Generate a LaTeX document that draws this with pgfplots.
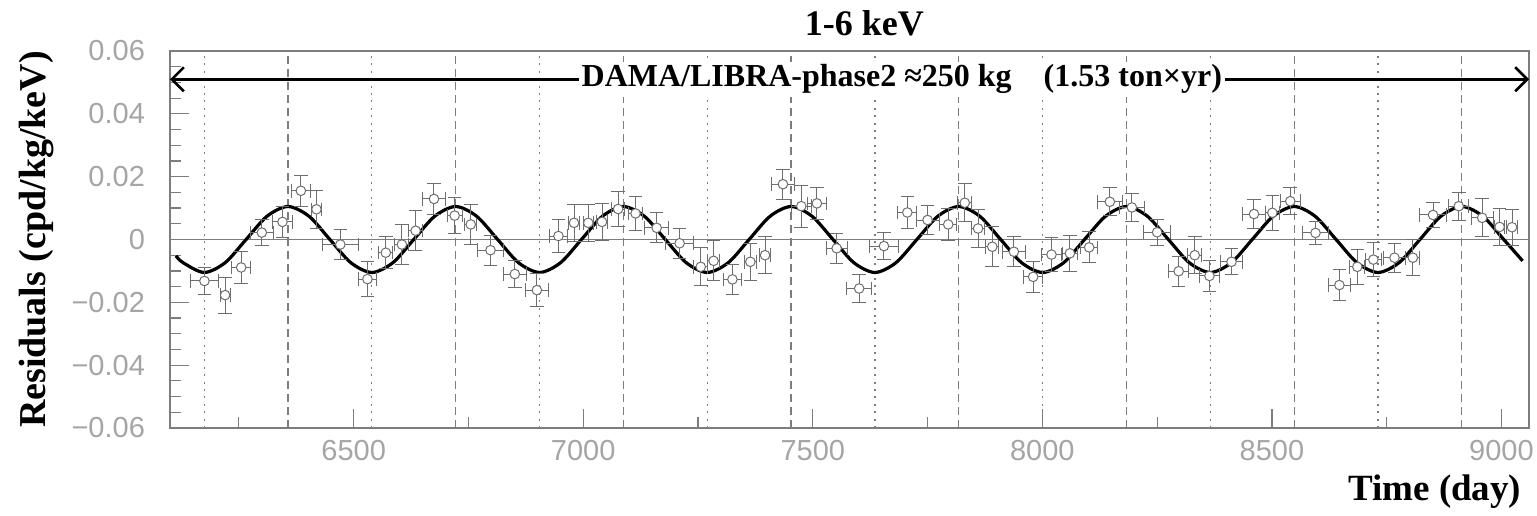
\documentclass[border=0pt]{standalone}
\usepackage{fontspec}
\setmainfont{Liberation Serif}
\newfontfamily\ticksans{Liberation Sans}
\usepackage{pgfplots}
\pgfplotsset{compat=1.18}
\usetikzlibrary{arrows.meta}
\definecolor{axisgray}{RGB}{125,125,125}
\definecolor{tickgray}{RGB}{165,165,165}
\definecolor{errgray}{RGB}{110,110,110}

% residuals: time, value, x half-width, y error
\pgfplotstableread{
x     y        ex   ey
6175  -0.0132  30  0.0042
6220  -0.0177  11  0.0057
6255  -0.0089  20  0.0052
6300   0.0022  25  0.0042
6345   0.0056  21  0.0049
6385   0.0155  21  0.0049
6419   0.0096  11  0.0060
6471  -0.0016  39  0.0049
6530  -0.0126  20  0.0055
6570  -0.0042  15  0.0050
6605  -0.0016  15  0.0064
6635   0.0028  16  0.0063
6675   0.0129  26  0.0049
6720   0.0076  16  0.0057
6755   0.0048  13  0.0064
6798  -0.0034  28  0.0048
6851  -0.0110  25  0.0044
6899  -0.0161  25  0.0053
6946   0.0011  20  0.0052
6980   0.0053  12  0.0058
7011   0.0053  11  0.0058
7041   0.0056  11  0.0058
7076   0.0097  15  0.0055
7114   0.0083  15  0.0053
7160   0.0037  26  0.0048
7210  -0.0012  30  0.0048
7256  -0.0087  15  0.0060
7284  -0.0068  13  0.0064
7325  -0.0127  20  0.0048
7364  -0.0071  13  0.0058
7396  -0.0050  13  0.0058
7435   0.0176  25  0.0048
7475   0.0106  22  0.0067
7509   0.0115  20  0.0052
7552  -0.0028  23  0.0048
7601  -0.0156  27  0.0046
7655  -0.0021  31  0.0044
7706   0.0086  21  0.0050
7750   0.0062  25  0.0046
7795   0.0048  19  0.0052
7831   0.0117  15  0.0061
7860   0.0035  15  0.0061
7891  -0.0023  14  0.0064
7938  -0.0039  25  0.0048
7980  -0.0119  21  0.0050
8020  -0.0048  22  0.0055
8060  -0.0044  17  0.0058
8102  -0.0025  19  0.0049
8147   0.0120  27  0.0045
8195   0.0102  27  0.0045
8250   0.0023  29  0.0041
8297  -0.0101  22  0.0048
8332  -0.0050  15  0.0058
8364  -0.0116  22  0.0048
8412  -0.0071  25  0.0042
8461   0.0081  26  0.0045
8501   0.0085  15  0.0056
8540   0.0122  22  0.0042
8595   0.0021  29  0.0037
8647  -0.0145  24  0.0048
8686  -0.0087  16  0.0055
8721  -0.0064  18  0.0053
8767  -0.0058  25  0.0046
8807  -0.0058  15  0.0057
8851   0.0078  30  0.0040
8907   0.0106  22  0.0044
8958   0.0069  24  0.0060
8996   0.0040  11  0.0058
9023   0.0039  13  0.0058
}\residuals

% fitted modulation (peaks, troughs, crossings, mid points)
\pgfplotstableread{
t       v
6113   -0.0052
6128.7 -0.0074
6174.4 -0.0105
6220.0 -0.0074
6265.7  0
6311.3  0.0074
6357.0  0.0105
6402.7  0.0074
6448.3  0
6494.0 -0.0074
6539.6 -0.0105
6585.3 -0.0074
6630.9  0
6676.6  0.0074
6722.2  0.0105
6767.9  0.0074
6813.6  0
6859.2 -0.0074
6904.9 -0.0105
6950.5 -0.0074
6996.2  0
7041.8  0.0074
7087.5  0.0105
7133.2  0.0074
7178.8  0
7224.5 -0.0074
7270.1 -0.0105
7315.8 -0.0074
7361.4  0
7407.1  0.0074
7452.7  0.0105
7498.4  0.0074
7544.1  0
7589.7 -0.0074
7635.4 -0.0105
7681.0 -0.0074
7726.7  0
7772.3  0.0074
7818.0  0.0105
7863.7  0.0074
7909.3  0
7955.0 -0.0074
8000.6 -0.0105
8046.3 -0.0074
8091.9  0
8137.6  0.0074
8183.2  0.0105
8228.9  0.0074
8274.6  0
8320.2 -0.0074
8365.9 -0.0105
8411.5 -0.0074
8457.2  0
8502.8  0.0074
8548.5  0.0105
8594.1  0.0074
8639.8  0
8685.5 -0.0074
8731.1 -0.0105
8776.8 -0.0074
8822.4  0
8868.1  0.0074
8913.7  0.0105
8959.4  0.0074
9005.0  0
9046   -0.0068
}\fitcurve

\begin{document}
\begin{tikzpicture}
\path[use as bounding box] (-85pt,-43.5pt) rectangle (683.5pt,214pt);
\begin{axis}[
  at={(0,0)}, anchor=south west,
  width=679.5pt, height=188.5pt, scale only axis,
  xmin=6100, xmax=9060, ymin=-0.06, ymax=0.06,
  scaled y ticks=false, scaled x ticks=false,
  axis line style={draw=axisgray, line width=0.6pt},
  tick style={draw=axisgray, line width=0.6pt},
  tick align=inside, tick pos=left,
  major tick length=9.5pt, minor tick length=5.5pt,
  xtick={6500,7000,7500,8000,8500,9000},
  xticklabels={6500,7000,7500,8000,8500,9000},
  minor xtick={6250,6750,7250,7750,8250,8750},
  ytick={-0.06,-0.04,-0.02,0,0.02,0.04,0.06},
  yticklabels={−0.06,−0.04,−0.02,0,0.02,0.04,0.06},
  minor ytick={-0.055,-0.05,-0.045,-0.035,-0.03,-0.025,-0.015,-0.01,-0.005,
               0.005,0.01,0.015,0.025,0.03,0.035,0.045,0.05,0.055},
  ticklabel style={font=\ticksans\fontsize{14.5}{14.5}\selectfont, text=tickgray},
  yticklabel style={xshift=-9pt},
  xticklabel style={yshift=-2.5pt},
  title={1-6 keV},
  title style={font=\bfseries\fontsize{18}{18}\selectfont,
               at={(axis description cs:0.511,1.042)}, anchor=center},
  xlabel={Time (day)},
  xlabel style={font=\bfseries\fontsize{18.5}{18.5}\selectfont,
                at={(axis description cs:0.9995,-0.17)}, anchor=east},
  ylabel={Residuals (cpd/kg/keV)},
  ylabel style={font=\bfseries\fontsize{19}{19}\selectfont,
                at={(axis description cs:-0.098,0.5)}, anchor=center},
  unbounded coords=jump,
]
  % minima of the modulation (dotted) and maxima (dashed)
  \addplot[axisgray, line width=0.6pt, dash pattern=on 1pt off 2.7pt] coordinates {
    (6174.4,-0.06) (6174.4,0.06) (6174.4,nan)
    (6539.6,-0.06) (6539.6,0.06) (6539.6,nan)
    (6904.9,-0.06) (6904.9,0.06) (6904.9,nan)
    (7270.1,-0.06) (7270.1,0.06) (7270.1,nan)
    (7635.4,-0.06) (7635.4,0.06) (7635.4,nan)
    (8000.6,-0.06) (8000.6,0.06) (8000.6,nan)
    (8365.9,-0.06) (8365.9,0.06) (8365.9,nan)
    (8731.1,-0.06) (8731.1,0.06)
  };
  \addplot[axisgray, line width=0.6pt, dash pattern=on 4pt off 2.5pt] coordinates {
    (6357.0,-0.06) (6357.0,0.06) (6357.0,nan)
    (6722.2,-0.06) (6722.2,0.06) (6722.2,nan)
    (7087.5,-0.06) (7087.5,0.06) (7087.5,nan)
    (7452.7,-0.06) (7452.7,0.06) (7452.7,nan)
    (7818.0,-0.06) (7818.0,0.06) (7818.0,nan)
    (8183.2,-0.06) (8183.2,0.06) (8183.2,nan)
    (8548.5,-0.06) (8548.5,0.06) (8548.5,nan)
    (8913.7,-0.06) (8913.7,0.06)
  };
  % zero line
  \addplot[axisgray, line width=0.5pt] coordinates {(6100,0) (9060,0)};
  % fitted cosine
  \addplot[black, line width=1.6pt, smooth] table[x=t, y=v] {\fitcurve};
  % residual error bars
  \addplot[draw=none, mark=none,
    error bars/.cd, x dir=both, x explicit, y dir=both, y explicit,
    error bar style={errgray, line width=0.5pt},
    error mark options={rotate=90, mark size=3.4pt, errgray, line width=0.5pt}]
    table[x=x, y=y, x error=ex, y error=ey] {\residuals};
  % residual markers on top of the bars
  \addplot[only marks, mark=*, mark size=2.4pt,
    mark options={draw=errgray, fill=white, line width=0.5pt}]
    table[x=x, y=y] {\residuals};
  % exposure arrow
  \draw[line width=1.3pt, {Straight Barb[length=6pt,width=12pt]}-{Straight Barb[length=6pt,width=12pt]}]
    (axis cs:6100,0.051) -- (axis cs:9060,0.051);
  \node[fill=white, inner sep=1.5pt, font=\bfseries\fontsize{16}{16}\selectfont]
    at (axis cs:7694,0.051) {DAMA/LIBRA-phase2 ≈250 kg\quad(1.53 ton×yr)};
\end{axis}
\end{tikzpicture}
\end{document}
